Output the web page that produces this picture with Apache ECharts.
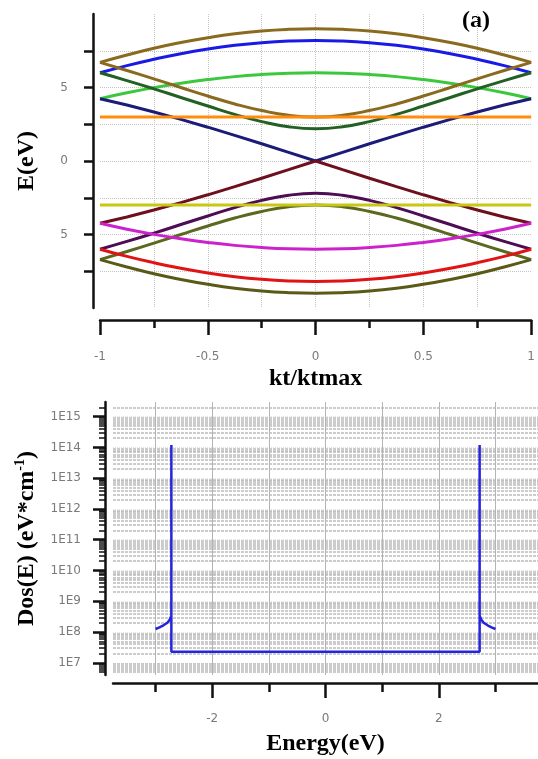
<!DOCTYPE html>
<html><head><meta charset="utf-8">
<script src="https://cdn.jsdelivr.net/npm/echarts@6/dist/echarts.min.js"></script>
<style>html,body{margin:0;padding:0;background:#fff}#c{width:538px;height:759px}</style>
</head><body><div id="c"></div>
<script>
// ---------- panel (a): band structure ----------
const kt = [-1,-0.875,-0.75,-0.625,-0.5,-0.375,-0.25,-0.125,0,0.125,0.25,0.375,0.5,0.625,0.75,0.875,1];
const brownUpper = [6.71,7.21,7.67,8.06,8.39,8.66,8.85,8.96,9.00,8.96,8.85,8.66,8.39,8.06,7.67,7.21,6.71];
const blue       = [6.00,6.49,6.92,7.30,7.62,7.87,8.05,8.16,8.20,8.16,8.05,7.87,7.62,7.30,6.92,6.49,6.00];
const lightGreen = [4.24,4.64,4.99,5.29,5.54,5.74,5.88,5.97,6.00,5.97,5.88,5.74,5.54,5.29,4.99,4.64,4.24];
const darkGreen  = [6.00,5.47,4.91,4.32,3.74,3.17,2.68,2.33,2.20,2.33,2.68,3.17,3.74,4.32,4.91,5.47,6.00];
const brownLower = [6.71,6.16,5.59,5.00,4.42,3.88,3.43,3.11,3.00,3.11,3.43,3.88,4.42,5.00,5.59,6.16,6.71];
const navy       = [4.24,3.81,3.33,2.83,2.30,1.74,1.17,0.59,0.00,0.59,1.17,1.74,2.30,2.83,3.33,3.81,4.24];
const orange     = [3,3,3,3,3,3,3,3,3,3,3,3,3,3,3,3,3];
const maroon     = [-4.24,-3.81,-3.33,-2.83,-2.30,-1.74,-1.17,-0.59,0.00,-0.59,-1.17,-1.74,-2.30,-2.83,-3.33,-3.81,-4.24];
const purple     = [-6.00,-5.47,-4.91,-4.32,-3.74,-3.17,-2.68,-2.33,-2.20,-2.33,-2.68,-3.17,-3.74,-4.32,-4.91,-5.47,-6.00];
const oliveLower = [-6.71,-6.16,-5.59,-5.00,-4.42,-3.88,-3.43,-3.11,-3.00,-3.11,-3.43,-3.88,-4.42,-5.00,-5.59,-6.16,-6.71];
const magenta    = [-4.24,-4.64,-4.99,-5.29,-5.54,-5.74,-5.88,-5.97,-6.00,-5.97,-5.88,-5.74,-5.54,-5.29,-4.99,-4.64,-4.24];
const red        = [-6.00,-6.49,-6.92,-7.30,-7.62,-7.87,-8.05,-8.16,-8.20,-8.16,-8.05,-7.87,-7.62,-7.30,-6.92,-6.49,-6.00];
const oliveBottom= [-6.71,-7.21,-7.67,-8.06,-8.39,-8.66,-8.85,-8.96,-9.00,-8.96,-8.85,-8.66,-8.39,-8.06,-7.67,-7.21,-6.71];
const yellow     = [-3,-3,-3,-3,-3,-3,-3,-3,-3,-3,-3,-3,-3,-3,-3,-3,-3];

const bandTicksX = [-1,-0.5,0,0.5,1];
const bandMinorX = [-0.75,-0.5,-0.25,0,0.25,0.5,0.75];
const bandTicksY = [-7.5,-5,-2.5,0,2.5,5,7.5];
const bandLabelsY = {'-5':'5','0':'0','5':'5'};

// ---------- panel (b): density of states ----------
const dosE = [-3.0,-2.93,-2.86,-2.79,-2.75,-2.72,-2.72,-2.72,2.72,2.72,2.72,2.75,2.79,2.86,2.93,3.0];
const dosV = [1.25e8,1.42e8,1.65e8,2.0e8,2.5e8,3.4e8,1.2e14,2.3e7,2.3e7,1.2e14,3.4e8,2.5e8,2.0e8,1.65e8,1.42e8,1.25e8];
const dosTicksX = [-2,0,2];
const dosMinorX = [-3,-2,-1,0,1,2,3];
const dosDecades = [1e7,1e8,1e9,1e10,1e11,1e12,1e13,1e14,1e15];

const dosMin = 4e6, dosMax = 3e15;
const dosMinor = [];
for (let e = 6; e <= 15; e++) for (let m = 2; m <= 9; m++) { const v = m * Math.pow(10, e); if (v > dosMin && v < dosMax) dosMinor.push(v); }

const serif = 'Liberation Serif';
const tickFont = {color:'#7a7a7a', fontSize:12, fontFamily:'DejaVu Sans'};
const titleStyle = {fontFamily:serif, fontWeight:'bold', fontSize:24, color:'#000'};
const blackLine = {onZero:false, lineStyle:{color:'#111', width:2.5}};
const noLine = {show:false, onZero:false};

function band(data, color, smooth) {
  return {type:'line', xAxisIndex:0, yAxisIndex:0, data: kt.map((x,i)=>[x,data[i]]),
    smooth: smooth, showSymbol:false, symbol:'none', lineStyle:{color, width:3}};
}

const chart = echarts.init(document.getElementById('c'), null, {renderer:'canvas'});
chart.setOption({
  animation:false,
  backgroundColor:'#fff',
  grid:[
    {left:100, width:440, top:14, height:294},
    {left:113, width:427, top:402, height:273}
  ],
  graphic:[{type:'text', left:462, top:9, style:{text:'(a)', font:'bold 24px "Liberation Serif"', fill:'#000'}}],
  xAxis:[
    {gridIndex:0, type:'value', min:-1, max:1, position:'bottom', offset:12,
     axisLine:blackLine, axisTick:{customValues:bandTicksX, length:15, lineStyle:{color:'#111',width:2.5}},
     axisLabel:Object.assign({customValues:bandTicksX, margin:31}, tickFont),
     splitLine:{show:false},
     name:'kt/ktmax', nameLocation:'middle', nameGap:47, nameTextStyle:titleStyle},
    {gridIndex:0, type:'value', min:-1, max:1, position:'bottom', offset:12,
     axisLine:noLine, axisTick:{customValues:bandMinorX, length:8, lineStyle:{color:'#111',width:2.5}},
     axisLabel:{show:false},
     splitLine:{show:true, lineStyle:{color:'#c4c4c4', width:1, type:'dotted'}}},
    {gridIndex:1, type:'value', min:-3.75, max:3.75, position:'bottom', offset:8,
     axisLine:blackLine, axisTick:{customValues:dosTicksX, length:15, lineStyle:{color:'#111',width:2.5}},
     axisLabel:Object.assign({customValues:dosTicksX, margin:30}, tickFont),
     splitLine:{show:false},
     name:'Energy(eV)', nameLocation:'middle', nameGap:49, nameTextStyle:titleStyle},
    {gridIndex:1, type:'value', min:-3.75, max:3.75, position:'bottom', offset:8,
     axisLine:noLine, axisTick:{customValues:dosMinorX, length:9, lineStyle:{color:'#111',width:2.5}},
     axisLabel:{show:false},
     splitLine:{show:true, lineStyle:{color:'#b4b4b4', width:1}}}
  ],
  yAxis:[
    {gridIndex:0, type:'value', min:-10, max:10, position:'left', offset:7,
     axisLine:blackLine, axisTick:{customValues:bandTicksY, length:9, lineStyle:{color:'#111',width:2.5}},
     axisLabel:Object.assign({customValues:[-5,0,5], margin:25, formatter:v=>bandLabelsY[String(v)]}, tickFont),
     splitLine:{show:true, lineStyle:{color:'#c4c4c4', width:1, type:'dotted'}},
     name:'E(eV)', nameLocation:'middle', nameGap:54, nameTextStyle:titleStyle},
    {gridIndex:1, type:'log', min:dosMin, max:dosMax, position:'left', offset:8,
     axisLine:blackLine, axisTick:{customValues:dosDecades, length:12, lineStyle:{color:'#111',width:2.5}},
     axisLabel:Object.assign({customValues:dosDecades, margin:24, formatter:v=>'1E'+Math.round(Math.log10(v))}, tickFont),
     splitLine:{show:true, lineStyle:{color:'#e4e4e4', width:1, type:'dotted'}},
     name:'{a|Dos(E) (eV*cm}{s|-1}{a|)}', nameLocation:'middle', nameGap:64,
     nameTextStyle:{rich:{a:{fontFamily:serif, fontWeight:'bold', fontSize:24, color:'#000', lineHeight:28},
                          s:{fontFamily:serif, fontWeight:'bold', fontSize:14, color:'#000', verticalAlign:'top', lineHeight:28}}}},
    {gridIndex:1, type:'log', min:dosMin, max:dosMax, position:'left', offset:8,
     axisLine:noLine, axisTick:{customValues:dosMinor, length:6, lineStyle:{color:'#111',width:1.5}},
     axisLabel:{show:false},
     splitLine:{show:true, lineStyle:{color:'#bcbcbc', width:1.5, type:[3,1]}}}
  ],
  series:[
    band(brownUpper,'#8a6a1e',true),
    band(blue,'#1a1ae6',true),
    band(lightGreen,'#3cc83c',true),
    band(darkGreen,'#236023',true),
    band(brownLower,'#8a6a1e',true),
    band(navy,'#1c1c78',false),
    band(maroon,'#6e0f1e',false),
    band(purple,'#4e0c54',true),
    band(oliveLower,'#5a6820',true),
    band(magenta,'#cc22cc',true),
    band(red,'#e01414',true),
    band(oliveBottom,'#5a5a16',true),
    band(orange,'#ff8c0a',false),
    band(yellow,'#c8c814',false),
    {type:'line', xAxisIndex:2, yAxisIndex:1, data: dosE.map((x,i)=>[x,dosV[i]]),
     showSymbol:false, symbol:'none', lineStyle:{color:'#2424dc', width:2.5}}
  ]
});
</script></body></html>
